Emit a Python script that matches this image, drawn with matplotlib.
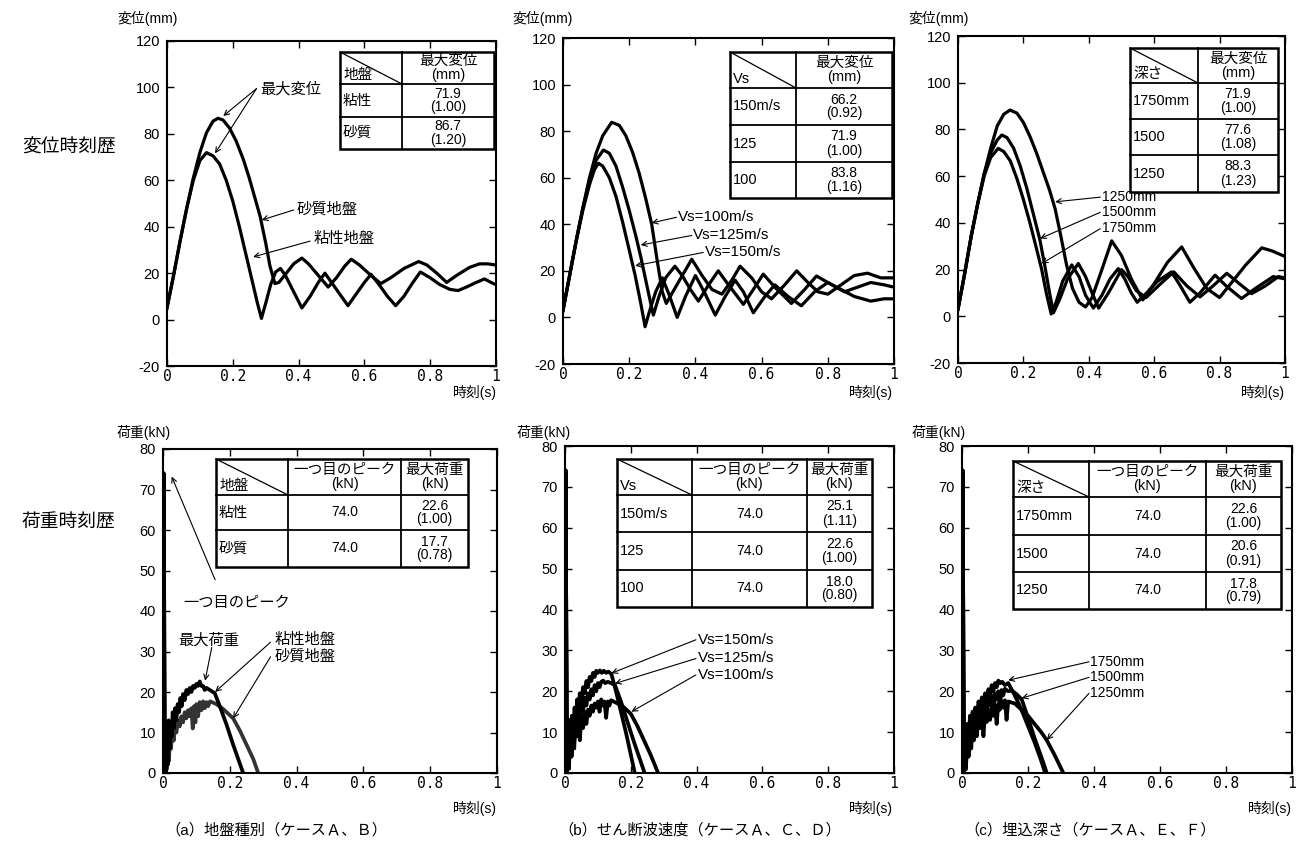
#!/usr/bin/env python
# -*- coding:utf-8 -*-
import matplotlib
matplotlib.use("Agg")
import matplotlib.pyplot as plt
from matplotlib.patches import Rectangle

plt.rcParams['font.family'] = ['Liberation Sans', 'Noto Sans CJK JP', 'DejaVu Sans']
plt.rcParams['axes.unicode_minus'] = False

# =============================================================================
# DATA
# =============================================================================
x_ticks = [0, 0.2, 0.4, 0.6, 0.8, 1.0]
x_tick_labels = ['0', '0.2', '0.4', '0.6', '0.8', '1']
disp_ticks = [-20, 0, 20, 40, 60, 80, 100, 120]
load_ticks = [0, 10, 20, 30, 40, 50, 60, 70, 80]

# --- displacement, (a) ground type
t_da_clay = [0, 0.02, 0.04, 0.06, 0.08, 0.10, 0.12, 0.14, 0.16, 0.18, 0.20, 0.22, 0.24, 0.26,
             0.275, 0.287, 0.30, 0.315, 0.33, 0.345, 0.36, 0.385, 0.41, 0.435, 0.46, 0.48, 0.50,
             0.525, 0.55, 0.575, 0.60, 0.62, 0.645, 0.67, 0.695, 0.72, 0.745, 0.77, 0.80, 0.83,
             0.86, 0.885, 0.91, 0.94, 0.965, 0.985, 1.0]
v_da_clay = [5, 19, 34, 48, 60, 68.5, 71.9, 70.5, 67, 60, 51, 40, 28, 16,
             7, 0.5, 7, 15, 20.5, 22, 19, 12, 5, 10, 16, 20, 16,
             11, 6, 11, 16, 19.5, 15, 10, 6, 10, 15.5, 20.5, 18, 15,
             13, 12.5, 14, 16, 17.5, 16, 15]
t_da_sand = [0, 0.02, 0.04, 0.06, 0.08, 0.10, 0.12, 0.14, 0.155, 0.17, 0.19, 0.21, 0.232, 0.25,
             0.27, 0.283, 0.30, 0.313, 0.328, 0.34, 0.36, 0.385, 0.41, 0.43, 0.46, 0.49, 0.515,
             0.54, 0.56, 0.585, 0.62, 0.65, 0.68, 0.72, 0.765, 0.79, 0.82, 0.85, 0.88, 0.92,
             0.95, 0.975, 1.0]
v_da_sand = [5, 19, 34, 48, 61, 72, 80.5, 85.5, 86.7, 86, 82.5, 77, 69, 61,
             51, 44.5, 33, 23, 15.5, 16, 19.5, 24, 26.5, 24, 19, 14, 18,
             23, 26, 23.5, 19, 15.5, 18, 22, 25, 23.5, 20, 16, 19, 22.5,
             24, 24, 23.5]

# --- displacement, (b) shear wave velocity
t_db_150 = [0, 0.02, 0.04, 0.06, 0.08, 0.095, 0.107, 0.12, 0.14, 0.16, 0.18, 0.20, 0.218, 0.235,
            0.248, 0.26, 0.28, 0.30, 0.32, 0.345, 0.37, 0.40, 0.43, 0.46, 0.49, 0.52, 0.545,
            0.575, 0.61, 0.64, 0.68, 0.72, 0.76, 0.80, 0.84, 0.88, 0.93, 0.97, 1.0]
v_db_150 = [3, 18, 33, 46, 57, 63.5, 66.2, 65, 60, 52, 41, 29, 18, 6,
            -4, 2, 11, 17, 10, 0, 9, 18, 10, 1, 9, 16, 11,
            2, 9, 14, 9, 5, 11, 15, 12, 9, 7, 8, 8]
t_db_125 = [0, 0.02, 0.04, 0.06, 0.08, 0.10, 0.122, 0.14, 0.16, 0.18, 0.20, 0.22, 0.235, 0.25,
            0.262, 0.273, 0.29, 0.31, 0.338, 0.36, 0.385, 0.409, 0.44, 0.469, 0.50, 0.545,
            0.575, 0.605, 0.64, 0.69, 0.73, 0.766, 0.80, 0.85, 0.89, 0.93, 0.97, 1.0]
v_db_125 = [3, 18, 33, 47, 59, 67.5, 71.9, 70.5, 65, 56, 46, 35, 26, 16,
            8, 1, 9, 17, 22, 18, 12, 7, 14, 20, 14, 5.6,
            12, 18.6, 13, 6, 12, 17.8, 15, 11, 13, 15, 14, 13]
t_db_100 = [0, 0.02, 0.04, 0.06, 0.08, 0.10, 0.12, 0.147, 0.17, 0.19, 0.21, 0.23, 0.25, 0.268,
            0.285, 0.30, 0.312, 0.34, 0.389, 0.42, 0.45, 0.48, 0.51, 0.535, 0.57, 0.60, 0.63,
            0.67, 0.706, 0.74, 0.77, 0.80, 0.84, 0.88, 0.92, 0.96, 1.0]
v_db_100 = [3, 18, 33, 47, 60, 70.5, 78, 83.8, 82.5, 78, 71, 62, 51, 40,
            24, 11, 6, 13, 25, 18, 12, 10, 16, 22, 17, 11, 8,
            14, 20, 15, 11, 10, 14, 18, 19, 17, 17]

# --- displacement, (c) embedment depth
t_dc_1750 = [0, 0.02, 0.04, 0.06, 0.08, 0.10, 0.123, 0.14, 0.16, 0.18, 0.20, 0.22, 0.24, 0.256,
             0.27, 0.285, 0.30, 0.32, 0.348, 0.37, 0.39, 0.414, 0.44, 0.465, 0.49, 0.51, 0.53,
             0.548, 0.57, 0.61, 0.653, 0.68, 0.709, 0.74, 0.786, 0.82, 0.867, 0.91, 0.964, 1.0]
v_dc_1750 = [3, 18, 34, 48, 60, 68, 71.9, 70.5, 66.5, 59, 50, 40, 29, 20,
             10, 1, 6, 15, 22, 17, 9, 3.5, 9, 16, 20.4, 16, 10,
             6, 9, 15, 19, 13, 6, 10, 17.6, 13, 7.6, 12, 17, 16]
t_dc_1500 = [0, 0.02, 0.04, 0.06, 0.08, 0.10, 0.12, 0.134, 0.15, 0.17, 0.19, 0.21, 0.23, 0.25,
             0.265, 0.28, 0.292, 0.31, 0.335, 0.368, 0.39, 0.41, 0.43, 0.46, 0.50, 0.52, 0.545,
             0.575, 0.62, 0.66, 0.70, 0.74, 0.78, 0.822, 0.86, 0.898, 0.94, 0.98, 1.0]
v_dc_1500 = [3, 18, 34, 48, 61, 70, 75.5, 77.6, 76.5, 72, 64.5, 55, 44, 33,
             22, 10, 1.5, 7, 16, 22.6, 17, 10, 3.5, 10, 20, 17, 11,
             8, 14, 19, 13, 8.3, 13, 18.4, 14, 9.7, 13, 17, 16.4]
t_dc_1250 = [0, 0.02, 0.04, 0.06, 0.08, 0.10, 0.12, 0.14, 0.159, 0.18, 0.20, 0.22, 0.24, 0.26,
             0.28, 0.297, 0.315, 0.332, 0.35, 0.37, 0.39, 0.41, 0.44, 0.47, 0.50, 0.53, 0.565,
             0.60, 0.64, 0.684, 0.72, 0.76, 0.80, 0.84, 0.88, 0.929, 0.96, 1.0]
v_dc_1250 = [3, 18, 34, 48, 61, 72, 81.5, 86.5, 88.3, 87, 83, 77, 70, 62,
             54, 46, 34, 22, 12, 6, 4, 8, 20, 32.3, 26, 16, 7,
             14, 23, 29.7, 21, 12, 8, 15, 22, 29.3, 28, 25.6]

# --- load, (a)
t_la_clay = [0, 0.002, 0.004, 0.006, 0.008, 0.011, 0.014, 0.017, 0.020, 0.023, 0.026, 0.029,
             0.032, 0.036, 0.040, 0.044, 0.048, 0.052, 0.056, 0.060, 0.065, 0.070, 0.075, 0.080,
             0.085, 0.090, 0.095, 0.100, 0.105, 0.110, 0.115, 0.120, 0.125, 0.130, 0.14, 0.155,
             0.17, 0.19, 0.21, 0.225, 0.24]
v_la_clay = [0, 74, 33, 3, 0, 12, 2, 13, 6, 12, 9, 15,
             11, 16, 13, 17, 15, 18.5, 16.5, 19.5, 18, 20.5, 19.5, 21,
             20, 21.5, 21, 22, 21.5, 22.6, 21.5, 21.5, 20.5, 21, 20.5, 19.7,
             16.5, 12, 7, 3.5, 0]
t_la_sand = [0, 0.002, 0.004, 0.006, 0.009, 0.012, 0.015, 0.018, 0.021, 0.024, 0.028, 0.032,
             0.036, 0.040, 0.045, 0.050, 0.055, 0.060, 0.065, 0.070, 0.075, 0.080, 0.085, 0.089,
             0.093, 0.097, 0.100, 0.105, 0.110, 0.115, 0.120, 0.125, 0.130, 0.135, 0.141, 0.16,
             0.18, 0.21, 0.23, 0.25, 0.27, 0.285]
v_la_sand = [0, 74, 30, 0, 8, 1, 9, 3, 10, 6, 11, 8,
             12, 10, 13, 11.5, 14, 12.5, 15, 13.5, 15.5, 14, 16, 11,
             16.5, 12.5, 17, 14, 17.5, 15.5, 17.7, 16, 17.5, 16.5, 17.7, 17,
             15.8, 13.5, 10.5, 7, 3.5, 0]

# --- load, (b)
t_lb_150 = [0, 0.002, 0.004, 0.006, 0.009, 0.012, 0.015, 0.018, 0.021, 0.025, 0.029, 0.033,
            0.037, 0.041, 0.045, 0.050, 0.055, 0.060, 0.065, 0.070, 0.075, 0.080, 0.085, 0.090,
            0.095, 0.100, 0.106, 0.112, 0.118, 0.125, 0.132, 0.141, 0.155, 0.17, 0.185, 0.20,
            0.212]
v_lb_150 = [0, 74, 33, 2, 11, 3, 13, 7, 14, 10, 16, 13,
            18, 15, 19.5, 17.5, 21, 19.5, 22.5, 21, 23.5, 22.5, 24.5, 23.5,
            25, 24.5, 25.1, 24.5, 25, 24.5, 24.8, 24.2, 20, 15, 10, 4.5,
            0]
t_lb_125 = [0, 0.002, 0.004, 0.006, 0.009, 0.012, 0.016, 0.020, 0.024, 0.028, 0.032, 0.036,
            0.040, 0.045, 0.050, 0.055, 0.060, 0.065, 0.070, 0.075, 0.080, 0.085, 0.090, 0.095,
            0.100, 0.105, 0.110, 0.116, 0.122, 0.130, 0.140, 0.152, 0.17, 0.19, 0.21, 0.225,
            0.242]
v_lb_125 = [0, 74, 33, 1, 9, 2, 12, 5, 13, 8, 14, 11,
            15.5, 13, 17, 15, 18.5, 16.5, 19.5, 18, 20.5, 19, 21.5, 20,
            22, 21, 22.3, 22.6, 22, 22.3, 22, 21.5, 17.5, 12.5, 7.5, 4,
            0]
t_lb_100 = [0, 0.002, 0.004, 0.006, 0.009, 0.012, 0.016, 0.020, 0.024, 0.028, 0.032, 0.036,
            0.040, 0.045, 0.050, 0.055, 0.060, 0.065, 0.070, 0.075, 0.080, 0.085, 0.090, 0.095,
            0.100, 0.105, 0.110, 0.115, 0.120, 0.125, 0.130, 0.135, 0.140, 0.160, 0.180, 0.200,
            0.220, 0.240, 0.260, 0.283]
v_lb_100 = [0, 74, 33, 0, 7, 1, 10, 4, 11, 6, 12, 9,
            13, 8, 14, 11, 15, 12, 15.5, 14, 16.5, 15, 17, 16,
            17.5, 15, 18, 16.5, 17.5, 13.5, 17.5, 16.5, 17.8, 17, 16, 14.5,
            11.5, 8, 4.5, 0]

# --- load, (c)
t_lc_1750 = [0, 0.002, 0.004, 0.006, 0.009, 0.012, 0.016, 0.020, 0.024, 0.028, 0.032, 0.036,
             0.040, 0.045, 0.050, 0.055, 0.060, 0.065, 0.070, 0.075, 0.080, 0.085, 0.090, 0.095,
             0.100, 0.105, 0.110, 0.116, 0.122, 0.130, 0.140, 0.16, 0.18, 0.20, 0.22, 0.24, 0.252]
v_lc_1750 = [0, 74, 33, 2, 10, 1, 12, 6, 14, 9, 15, 12,
             16, 13.5, 17.5, 15.5, 18.5, 16.5, 19.5, 18, 20.5, 19, 21.5, 20,
             22, 21, 22.6, 22, 22.3, 21.5, 22, 19, 15.5, 11.5, 7.5, 3, 0]
t_lc_1500 = [0, 0.002, 0.004, 0.006, 0.009, 0.012, 0.016, 0.020, 0.024, 0.028, 0.032, 0.036,
             0.040, 0.045, 0.050, 0.055, 0.060, 0.065, 0.070, 0.075, 0.080, 0.085, 0.090, 0.095,
             0.100, 0.105, 0.110, 0.115, 0.120, 0.125, 0.130, 0.140, 0.150, 0.165, 0.181, 0.20,
             0.22, 0.24, 0.257]
v_lc_1500 = [0, 74, 33, 1, 8, 2, 11, 5, 13, 8, 14, 10,
             15, 12, 16, 13.5, 17, 12, 17.5, 15, 18.5, 16.5, 19, 14.5,
             19.5, 18, 20, 16, 20.3, 19, 20.6, 20, 20.2, 19.3, 18, 13.5,
             8.5, 4, 0]
t_lc_1250 = [0, 0.002, 0.004, 0.006, 0.009, 0.012, 0.016, 0.020, 0.024, 0.028, 0.032, 0.036,
             0.040, 0.045, 0.050, 0.055, 0.060, 0.065, 0.070, 0.075, 0.080, 0.085, 0.090, 0.095,
             0.100, 0.105, 0.110, 0.115, 0.120, 0.125, 0.130, 0.135, 0.140, 0.16, 0.18, 0.20,
             0.22, 0.24, 0.257, 0.28, 0.307]
v_lc_1250 = [0, 74, 33, 0, 7, 1, 10, 4, 11, 6, 12, 8,
             13, 9, 14, 11, 14.5, 9, 15, 12.5, 15.5, 13, 16, 14,
             16.5, 12, 17, 15.5, 17.5, 16, 17.8, 13, 17.5, 17, 15.5, 14,
             12, 10, 8, 4.5, 0]

# --- tables
tbl_da_header = ['地盤', '最大変位\n(mm)']
tbl_da_rows = [['粘性', '71.9\n(1.00)'], ['砂質', '86.7\n(1.20)']]
tbl_db_header = ['Vs', '最大変位\n(mm)']
tbl_db_rows = [['150m/s', '66.2\n(0.92)'], ['125', '71.9\n(1.00)'], ['100', '83.8\n(1.16)']]
tbl_dc_header = ['深さ', '最大変位\n(mm)']
tbl_dc_rows = [['1750mm', '71.9\n(1.00)'], ['1500', '77.6\n(1.08)'], ['1250', '88.3\n(1.23)']]
tbl_la_header = ['地盤', '一つ目のピーク\n(kN)', '最大荷重\n(kN)']
tbl_la_rows = [['粘性', '74.0', '22.6\n(1.00)'], ['砂質', '74.0', '17.7\n(0.78)']]
tbl_lb_header = ['Vs', '一つ目のピーク\n(kN)', '最大荷重\n(kN)']
tbl_lb_rows = [['150m/s', '74.0', '25.1\n(1.11)'], ['125', '74.0', '22.6\n(1.00)'],
               ['100', '74.0', '18.0\n(0.80)']]
tbl_lc_header = ['深さ', '一つ目のピーク\n(kN)', '最大荷重\n(kN)']
tbl_lc_rows = [['1750mm', '74.0', '22.6\n(1.00)'], ['1500', '74.0', '20.6\n(0.91)'],
               ['1250', '74.0', '17.8\n(0.79)']]

captions = ['（a）地盤種別（ケースＡ、Ｂ）', '（b）せん断波速度（ケースＡ、Ｃ、Ｄ）',
            '（c）埋込深さ（ケースＡ、Ｅ、Ｆ）']

# =============================================================================
# FIGURE
# =============================================================================
W, H = 1296, 848
fig = plt.figure(figsize=(W / 100, H / 100), dpi=100)


def px_axes(l, t, r, b):
    return fig.add_axes([l / W, 1 - b / H, (r - l) / W, (b - t) / H])


def style(ax, ylim, yticks):
    ax.set_xlim(0, 1)
    ax.set_ylim(*ylim)
    ax.set_xticks(x_ticks)
    ax.set_xticklabels(x_tick_labels, fontfamily='DejaVu Sans Mono', fontsize=10.5)
    ax.set_yticks(yticks)
    ax.set_yticklabels([str(v) for v in yticks], fontsize=10.5)
    ax.tick_params(direction='in', length=5, width=1, top=True, right=True)
    ax.tick_params(axis='x', pad=2)
    ax.tick_params(axis='y', pad=5)
    for s in ax.spines.values():
        s.set_linewidth(1.5)


def note(ax, text, xy_text, start, tips, fs=11):
    ax.text(xy_text[0], xy_text[1], text, ha='left', va='center', fontsize=fs)
    for tip in tips:
        ax.annotate('', xy=tip, xytext=start,
                    arrowprops=dict(arrowstyle='->', lw=0.8, color='black',
                                    shrinkA=0, shrinkB=0, mutation_scale=9))


LW_D = 2.3
LW_L = 2.7

# ---- displacement row
ax = px_axes(167, 41, 496, 366)
ax.plot(t_da_clay, v_da_clay, color='black', lw=LW_D)
ax.plot(t_da_sand, v_da_sand, color='black', lw=LW_D)
style(ax, (-20, 120), disp_ticks)
note(ax, '最大変位', (0.283, 99.3), (0.272, 99.5), [(0.171, 87.7), (0.146, 71.6)])
note(ax, '砂質地盤', (0.394, 47.5), (0.385, 47.2), [(0.288, 42.9)])
note(ax, '粘性地盤', (0.445, 34.8), (0.435, 33.8), [(0.262, 27)])

ax = px_axes(563, 38, 894, 364)
for t, v in [(t_db_150, v_db_150), (t_db_125, v_db_125), (t_db_100, v_db_100)]:
    ax.plot(t, v, color='black', lw=LW_D)
style(ax, (-20, 120), disp_ticks)
note(ax, 'Vs=100m/s', (0.348, 43), (0.343, 43), [(0.268, 40.6)])
note(ax, 'Vs=125m/s', (0.394, 35.4), (0.389, 35.2), [(0.235, 31.1)])
note(ax, 'Vs=150m/s', (0.429, 27.9), (0.424, 27.9), [(0.218, 22.2)])

ax = px_axes(958, 36, 1285, 363)
for t, v in [(t_dc_1750, v_dc_1750), (t_dc_1500, v_dc_1500), (t_dc_1250, v_dc_1250)]:
    ax.plot(t, v, color='black', lw=LW_D)
style(ax, (-20, 120), disp_ticks)
note(ax, '1250mm', (0.44, 51), (0.435, 51), [(0.297, 49)], fs=10)
note(ax, '1500mm', (0.44, 44.7), (0.435, 44.5), [(0.251, 33.3)], fs=10)
note(ax, '1750mm', (0.44, 37.6), (0.435, 37.5), [(0.256, 22.6)], fs=10)

# ---- load row
ax = px_axes(163, 449, 497, 773)
ax.plot(t_la_sand, v_la_sand, color='#333333', lw=LW_L)
ax.plot(t_la_clay, v_la_clay, color='black', lw=LW_L)
style(ax, (0, 80), load_ticks)
note(ax, '一つ目のピーク', (0.061, 41.9), (0.156, 47.7), [(0.026, 73.2)])
note(ax, '最大荷重', (0.046, 32.8), (0.146, 31.0), [(0.126, 22.8)])
note(ax, '粘性地盤', (0.335, 32.8), (0.322, 32.3), [(0.156, 20)])
note(ax, '砂質地盤', (0.335, 28.7), (0.322, 28.7), [(0.21, 13.5)])

ax = px_axes(565, 446, 894, 773)
for t, v in [(t_lb_150, v_lb_150), (t_lb_125, v_lb_125), (t_lb_100, v_lb_100)]:
    ax.plot(t, v, color='black', lw=LW_L)
style(ax, (0, 80), load_ticks)
note(ax, 'Vs=150m/s', (0.404, 32.6), (0.398, 32.6), [(0.141, 24.4)])
note(ax, 'Vs=125m/s', (0.404, 28.1), (0.398, 28.0), [(0.152, 21.9)])
note(ax, 'Vs=100m/s', (0.404, 24.0), (0.398, 24.0), [(0.202, 15)])

ax = px_axes(962, 446, 1292, 773)
for t, v in [(t_lc_1750, v_lc_1750), (t_lc_1500, v_lc_1500), (t_lc_1250, v_lc_1250)]:
    ax.plot(t, v, color='black', lw=LW_L)
style(ax, (0, 80), load_ticks)
note(ax, '1750mm', (0.388, 27.2), (0.385, 27.2), [(0.14, 22.7)], fs=10)
note(ax, '1500mm', (0.388, 23.4), (0.385, 23.4), [(0.181, 18.3)], fs=10)
note(ax, '1250mm', (0.388, 19.5), (0.385, 19.5), [(0.257, 8.1)], fs=10)

# ---- overlay in pixel coordinates (tables, labels)
ov = fig.add_axes([0, 0, 1, 1], zorder=5)
ov.set_xlim(0, W)
ov.set_ylim(H, 0)
ov.axis('off')
ov.patch.set_visible(False)


def draw_table(xs, ys, header, rows):
    ov.add_patch(Rectangle((xs[0], ys[0]), xs[-1] - xs[0], ys[-1] - ys[0],
                           facecolor='white', edgecolor='black', lw=1.8))
    for x in xs[1:-1]:
        ov.plot([x, x], [ys[0], ys[-1]], color='black', lw=1.3)
    for y in ys[1:-1]:
        ov.plot([xs[0], xs[-1]], [y, y], color='black', lw=1.3)
    ov.plot([xs[0], xs[1]], [ys[0], ys[1]], color='black', lw=0.9)
    ov.text(xs[0] + 3, ys[1] - 2, header[0], ha='left', va='bottom', fontsize=10.5)
    for j, h in enumerate(header[1:], start=1):
        ov.text((xs[j] + xs[j + 1]) / 2, (ys[0] + ys[1]) / 2, h, ha='center', va='center',
                fontsize=10.5, linespacing=1.0)
    for i, row in enumerate(rows):
        yc = (ys[i + 1] + ys[i + 2]) / 2
        ov.text(xs[0] + 3, yc, row[0], ha='left', va='center', fontsize=10.5)
        for j, c in enumerate(row[1:], start=1):
            ov.text((xs[j] + xs[j + 1]) / 2, yc, c, ha='center', va='center',
                    fontsize=10, linespacing=1.0)


draw_table([340, 402, 494], [52, 84, 117, 149], tbl_da_header, tbl_da_rows)
draw_table([730, 796, 892], [52, 88, 125, 162, 198], tbl_db_header, tbl_db_rows)
draw_table([1130, 1198, 1278], [48, 83, 119, 155, 192], tbl_dc_header, tbl_dc_rows)
draw_table([216, 288, 401, 468], [459, 495, 530, 567], tbl_la_header, tbl_la_rows)
draw_table([617, 692, 807, 872], [459, 495, 532, 570, 607], tbl_lb_header, tbl_lb_rows)
draw_table([1013, 1089, 1206, 1281], [461, 497, 535, 572, 609], tbl_lc_header, tbl_lc_rows)

# row labels
ov.text(22, 148, '変位時刻歴', ha='left', va='center', fontsize=13.5)
ov.text(22, 523, '荷重時刻歴', ha='left', va='center', fontsize=13.5)

# axis titles
for x in [117, 512, 908]:
    ov.text(x, 18, '変位(mm)', ha='left', va='center', fontsize=10)
for x in [117, 517, 912]:
    ov.text(x, 433, '荷重(kN)', ha='left', va='center', fontsize=10)
for x in [497, 893, 1285]:
    ov.text(x, 393, '時刻(s)', ha='right', va='center', fontsize=10)
for x in [497, 893, 1292]:
    ov.text(x, 808, '時刻(s)', ha='right', va='center', fontsize=10)

# captions
for x, c in zip([276, 700, 1090], captions):
    ov.text(x, 830, c, ha='center', va='center', fontsize=11)

fig.savefig('out.png', dpi=100)
print("Wrote out.png")
